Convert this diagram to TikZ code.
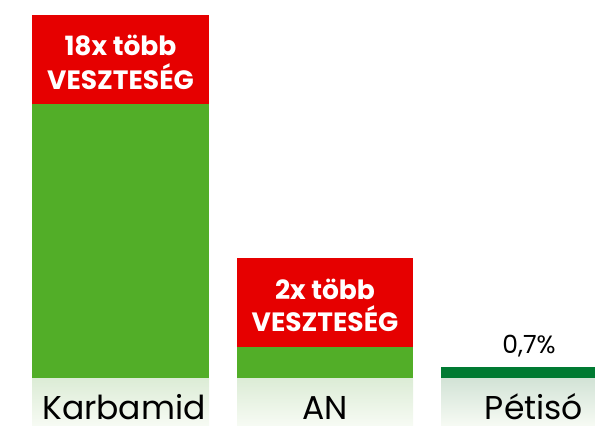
\documentclass[tikz,border=0pt]{standalone}
\usepackage{fontspec}
\setmainfont{Poppins}
\definecolor{loss_red}{RGB}{230,0,0}
\definecolor{bar_green}{RGB}{82,174,40}
\definecolor{pet_green}{RGB}{0,122,50}
\definecolor{base_top}{RGB}{220,236,214}
\definecolor{base_bottom}{RGB}{247,251,244}
\definecolor{pet_top}{RGB}{210,227,214}
\begin{document}
\begin{tikzpicture}[x=1pt,y=-1pt,loss_text/.style={text=white,font=\bfseries\fontsize{26.5}{30}\selectfont,anchor=base,inner sep=0pt},name_text/.style={text=black,font=\fontsize{33}{33}\selectfont,anchor=base,inner sep=0pt},base_box/.style={top color=base_top,bottom color=base_bottom}]
		
		\useasboundingbox (0,0) rectangle (595,426);
		
		% Karbamid
		\fill[loss_red] (32,15) rectangle (209,104);
		\fill[bar_green] (32,104) rectangle (209,378);
		\shade[base_box] (32,378) rectangle (209,426);
		
		% AN
		\fill[loss_red] (237,258) rectangle (413,347);
		\fill[bar_green] (237,347) rectangle (413,378);
		\shade[base_box] (237,378) rectangle (413,426);
		
		% Petiso
		\fill[pet_green] (441,367) rectangle (595,378);
		\shade[base_box,top color=pet_top] (441,378) rectangle (595,426);
		
		\node[loss_text] (k1) at (120.5,55) {18x több};
		\node[loss_text] (k2) at (120.5,89) {VESZTESÉG};
		\node[loss_text] (a1) at (325,299) {2x több};
		\node[loss_text] (a2) at (325,331) {VESZTESÉG};
		\node[anchor=base,inner sep=0pt,font=\fontsize{25}{25}\selectfont] (p) at (529,353) {0,7\%};
		
		\node[name_text] (karbamid) at (124,419) {Karbamid};
		\node[name_text] (an) at (325,419) {AN};
		\node[name_text] (petiso) at (534,419) {Pétisó};
		\end{tikzpicture}
\end{document}
